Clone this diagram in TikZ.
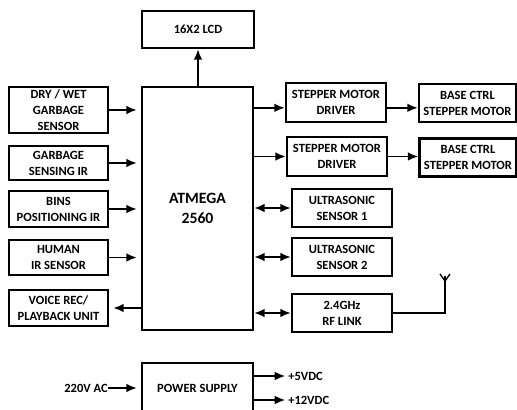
\documentclass[tikz,border=0pt]{standalone}
\usepackage{fontspec}
\setmainfont{Carlito}
\usetikzlibrary{arrows.meta}
\begin{document}
\begin{tikzpicture}[
    x=0.75pt, y=-0.75pt,
    block/.style={rectangle, draw, line width=1.6pt, align=center, inner sep=0pt, font=\bfseries\fontsize{9.4}{12}\selectfont},
    lbl/.style={inner sep=0pt, font=\bfseries\fontsize{9.4}{12}\selectfont},
    line/.style={draw, -{Latex[length=8pt,width=6.5pt]}, line width=1.4pt},
    both/.style={draw, {Latex[length=8pt,width=6.5pt]}-{Latex[length=8pt,width=6.5pt]}, line width=1.4pt}
]
    \useasboundingbox (0,0) rectangle (517,410);

    % controller and display
    \node [block, minimum width=84pt, minimum height=27.75pt] (lcd) at (198,29.5) {16X2 LCD};
    \node [block, minimum width=83.25pt, minimum height=182.25pt, font=\bfseries\fontsize{11.8}{14.5}\selectfont] (mcu) at (197.5,208.5) {ATMEGA\\2560};

    % inputs on the left
    \node [block, minimum width=74.25pt, minimum height=34.5pt] (drywet) at (58.5,110) {DRY / WET\\GARBAGE\\SENSOR};
    \node [block, minimum width=74.25pt, minimum height=25.5pt] (gsir) at (58.5,163) {GARBAGE\\SENSING IR};
    \node [block, minimum width=74.25pt, minimum height=27pt] (binsir) at (58.5,209) {BINS\\POSITIONING IR};
    \node [block, minimum width=74.25pt, minimum height=26.25pt] (humanir) at (58.5,257.5) {HUMAN\\IR SENSOR};
    \node [block, minimum width=74.25pt, minimum height=27pt] (voice) at (58.5,308) {VOICE REC/\\PLAYBACK UNIT};

    % outputs on the right
    \node [block, minimum width=75pt, minimum height=29.25pt] (drvA) at (336,102.5) {STEPPER MOTOR\\DRIVER};
    \node [block, minimum width=72.75pt, minimum height=28.5pt] (motA) at (467.5,103) {BASE CTRL\\STEPPER MOTOR};
    \node [block, minimum width=75pt, minimum height=29.25pt] (drvB) at (337,156.5) {STEPPER MOTOR\\DRIVER};
    \node [block, minimum width=72.75pt, minimum height=28.5pt] (motB) at (468,157.5) {BASE CTRL\\STEPPER MOTOR};
    \node [block, minimum width=75pt, minimum height=28.5pt] (usA) at (342,208) {ULTRASONIC\\SENSOR 1};
    \node [block, minimum width=75pt, minimum height=28.5pt] (usB) at (342,257) {ULTRASONIC\\SENSOR 2};
    \node [block, minimum width=75pt, minimum height=28.5pt] (rf) at (342,313) {2.4GHz\\RF LINK};
    \coordinate (drvAin) at ([yshift=-4pt]drvA.west);
    \coordinate (drvAout) at ([yshift=-4pt]drvA.east);
    \coordinate (ant) at (445,281);

    % power
    \node [block, minimum width=83.25pt, minimum height=37.5pt] (psu) at (197.5,388) {POWER SUPPLY};
    \node [lbl, anchor=east] (ac) at (108,388) {220V AC};
    \node [lbl, anchor=west] (v5) at (288,376) {+5VDC};
    \node [lbl, anchor=west] (v12) at (288,400) {+12VDC};

    \draw [line] (mcu.north -| lcd) -- (lcd.south);
    \draw [line, shorten >=3pt] (drywet.east) -- (mcu.west |- drywet);
    \draw [line, shorten >=3pt] (gsir.east) -- (mcu.west |- gsir);
    \draw [line, shorten >=3pt] (binsir.east) -- (mcu.west |- binsir);
    \draw [line, shorten >=3pt] (humanir.east) -- (mcu.west |- humanir);
    \draw [line, shorten >=3pt] (mcu.west |- voice) -- (voice.east);

    \draw [line] (mcu.east |- drvAin) -- (drvAin);
    \draw [line] (drvAout) -- (motA.west |- drvAout);
    \draw [line] (mcu.east |- drvB) -- (drvB.west);
    \draw [line] (drvB.east) -- (motB.west |- drvB);
    \draw [both] (mcu.east |- usA) -- (usA.west);
    \draw [both] (mcu.east |- usB) -- (usB.west);
    \draw [both] (mcu.east |- rf) -- (rf.west);

    \draw [line width=1pt] (rf.east) -| (ant) -- ++(0,-5);
    \draw [line width=1pt] (ant) -- ++(-5,-7) (ant) -- ++(5,-7);

    \draw [line, shorten >=3pt] (ac.east) -- (psu.west);
    \draw [line, shorten >=2pt] (psu.east |- v5) -- (v5.west);
    \draw [line, shorten >=2pt] (psu.east |- v12) -- (v12.west);
\end{tikzpicture}
\end{document}
